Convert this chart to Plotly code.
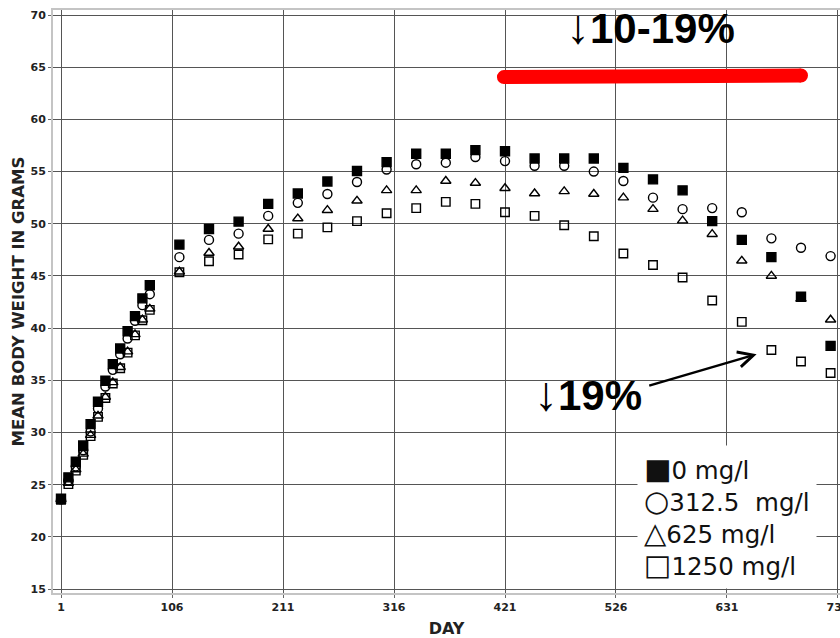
import plotly.graph_objects as go

days = [1, 8, 15, 22, 29, 36, 43, 50, 57, 64, 71, 78, 85,
        113, 141, 169, 197, 225, 253, 281, 309, 337, 365, 393, 421,
        449, 477, 505, 533, 561, 589, 617, 645, 673, 701, 729]

w_0 = [23.65, 25.7, 27.2, 28.75, 30.8, 32.95, 34.95, 36.55, 38.05, 39.7, 41.15, 42.85, 44.1,
       48.0, 49.5, 50.2, 51.9, 52.9, 54.05, 55.05, 55.9, 56.7, 56.7, 57.05, 56.95,
       56.25, 56.25, 56.25, 55.35, 54.25, 53.2, 50.25, 48.45, 46.8, 43.0, 38.3]
w_312 = [23.6, 25.4, 26.75, 28.3, 30.1, 32.3, 34.4, 36.0, 37.5, 39.0, 40.7, 42.2, 43.25,
         46.8, 48.45, 49.05, 50.75, 52.0, 52.85, 54.0, 55.2, 55.7, 55.85, 56.4, 56.0,
         55.55, 55.55, 55.0, 54.1, 52.5, 51.4, 51.5, 51.1, 48.6, 47.7, 46.9]
w_625 = [23.6, 25.15, 26.45, 27.95, 29.75, 31.6, 33.4, 34.8, 36.25, 37.75, 39.4, 40.8, 41.85,
         45.4, 47.2, 47.8, 49.5, 50.5, 51.3, 52.2, 53.2, 53.2, 54.1, 53.9, 53.4,
         52.9, 53.1, 52.85, 52.5, 51.4, 50.3, 49.0, 46.45, 45.0, 42.8, 40.8]
w_1250 = [23.55, 25.05, 26.35, 27.85, 29.65, 31.5, 33.3, 34.7, 36.15, 37.65, 39.3, 40.75, 41.75,
          45.35, 46.4, 47.05, 48.5, 49.05, 49.65, 50.25, 51.0, 51.5, 52.1, 51.9, 51.1,
          50.75, 49.85, 48.8, 47.15, 46.05, 44.85, 42.65, 40.6, 37.9, 36.8, 35.7]

legend_symbols = ["\u25A0", "\u25CB", "\u25B3", "\u25A1"]
legend_labels = ["0 mg/l", "312.5 \u00a0mg/l", "625 mg/l", "1250 mg/l"]
x_ticks = [1, 106, 211, 316, 421, 526, 631, 736]
y_ticks = [15, 20, 25, 30, 35, 40, 45, 50, 55, 60, 65, 70]

fig = go.Figure()

series = [
    ("1250 mg/l", w_1250, "square-open", 8.5),
    ("625 mg/l", w_625, "triangle-up-open", 9),
    ("312.5 mg/l", w_312, "circle-open", 9),
    ("0 mg/l", w_0, "square", 9),
]
for name, vals, sym, sz in series:
    fig.add_trace(go.Scatter(
        x=days, y=vals, mode="markers", name=name, showlegend=False,
        marker=dict(symbol=sym, size=sz, color="black", line=dict(width=1.4, color="black")),
    ))

# red bar
fig.add_shape(type="line", xref="x", yref="y", x0=420, y0=64.05, x1=701, y1=64.2,
              line=dict(color="#ff0000", width=14))
for xa, ya in [(420, 64.05), (701, 64.2)]:
    fig.add_shape(type="circle", xref="x", yref="y", xsizemode="pixel", ysizemode="pixel",
                  xanchor=xa, yanchor=ya, x0=-7, x1=7, y0=-7, y1=7,
                  fillcolor="#ff0000", line=dict(width=0))

fig.add_annotation(x=477, y=68.9, xref="x", yref="y", xanchor="left", yanchor="middle",
                   text="<span style='font-size:48px'>\u2193</span><b>10-19%</b>", showarrow=False,
                   font=dict(family="Liberation Sans, Arial", size=42, color="black"))
fig.add_annotation(x=447, y=33.7, xref="x", yref="y", xanchor="left", yanchor="middle",
                   text="<span style='font-size:48px'>\u2193</span><b>19%</b>", showarrow=False,
                   font=dict(family="Liberation Sans, Arial", size=42, color="black"))
fig.add_annotation(x=659, y=37.5, xref="x", yref="y", ax=556, ay=34.45, axref="x", ayref="y",
                   text="", showarrow=True, arrowhead=5, arrowsize=1.2, arrowwidth=2.5,
                   arrowcolor="black")

legend_text = "<br>".join(
    "<span style='font-size:29px'>%s</span>%s" % (s, l) for s, l in zip(legend_symbols, legend_labels)
)
fig.add_annotation(x=0.742, y=0.13, xref="paper", yref="paper", xanchor="left", yanchor="middle",
                   align="left", text=legend_text, showarrow=False,
                   bgcolor="white", borderpad=6,
                   font=dict(family="DejaVu Sans", size=24.5, color="#111111"))

axis_common = dict(showgrid=True, gridcolor="#555555", gridwidth=1, zeroline=False,
                   showline=True, linecolor="#c4c4c4", linewidth=2, mirror=True,
                   ticks="outside", ticklen=3, tickcolor="#666666",
                   tickfont=dict(family="DejaVu Sans", size=11, color="#222222", weight="bold"),
                   automargin=False, ticklabeloverflow="allow")

fig.update_xaxes(range=[-6.57, 737.9], tickvals=x_ticks, ticktext=[str(t) for t in x_ticks],
                 title=dict(text="DAY", standoff=12,
                            font=dict(family="DejaVu Sans", size=16, color="#222222", weight="bold")),
                 **axis_common)
fig.update_yaxes(range=[14.62, 70.48], tickvals=y_ticks,
                 title=dict(text="MEAN BODY WEIGHT IN GRAMS", standoff=2,
                            font=dict(family="DejaVu Sans", size=16.5, color="#222222", weight="bold")),
                 **axis_common)

fig.update_layout(width=840, height=638, margin=dict(l=53, r=0, t=10, b=45),
                  plot_bgcolor="white", paper_bgcolor="white", showlegend=False)

fig.write_html("out.html", config={"displayModeBar": False},
               post_script="document.body.style.margin='0';document.body.style.overflow='hidden';")
